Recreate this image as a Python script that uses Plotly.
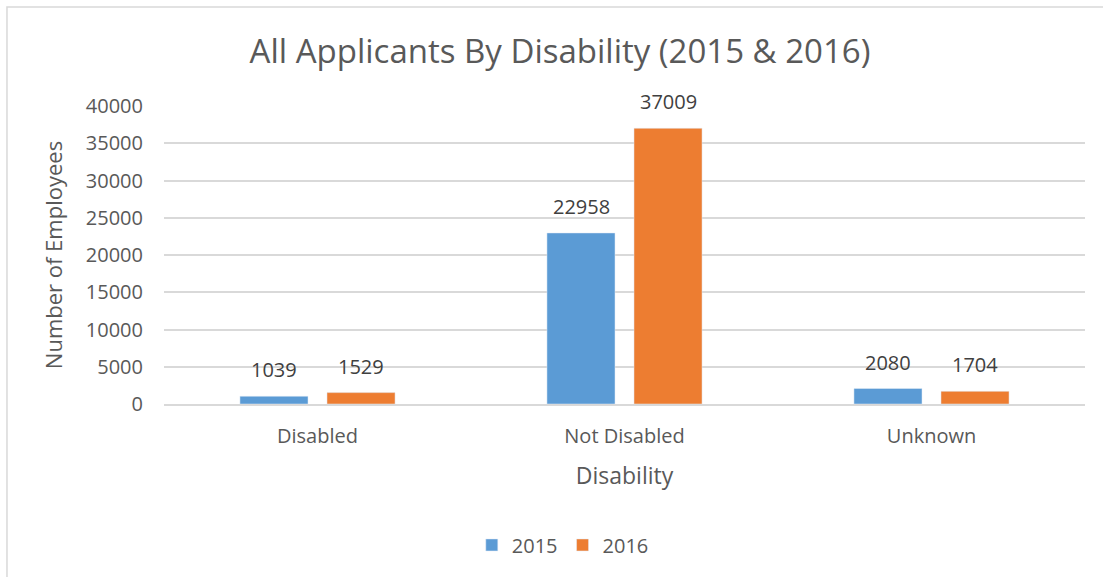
import plotly.graph_objects as go

categories = ["Disabled", "Not Disabled", "Unknown"]
values_2015 = [1039, 22958, 2080]
values_2016 = [1529, 37009, 1704]
series_names = ["2015", "2016"]
y_ticks = [0, 5000, 10000, 15000, 20000, 25000, 30000, 35000, 40000]
y_tick_labels = [str(v) for v in y_ticks]

FONT = "Open Sans, Liberation Sans, sans-serif"
TXT = "#595959"
COLORS = ["#5B9BD5", "#ED7D31"]
SLOT_PX = 43.5  # half of bar slot width in pixels for label offset

fig = go.Figure()
for name, vals, col in [(series_names[0], values_2015, COLORS[0]),
                        (series_names[1], values_2016, COLORS[1])]:
    fig.add_trace(go.Bar(x=categories, y=vals, name=name, marker_color=col))

annotations = []
for sign, vals in [(-1, values_2015), (1, values_2016)]:
    for c, v in zip(categories, vals):
        annotations.append(dict(
            x=c, y=v, xref="x", yref="y", text=str(v), showarrow=False,
            xanchor="center", yanchor="bottom", xshift=sign * SLOT_PX, yshift=11,
            font=dict(size=20, color="#404040", family=FONT)))

fig.update_layout(
    width=1103, height=577,
    paper_bgcolor="white", plot_bgcolor="white",
    margin=dict(l=164, r=18, t=106, b=173),
    barmode="group", bargap=0.433, bargroupgap=0.218,
    font=dict(family=FONT, color=TXT, size=20),
    title=dict(text="All Applicants By Disability (2015 & 2016)",
               x=0.43, xanchor="center", y=0.91, yanchor="middle",
               xref="paper",
               font=dict(size=33, color=TXT, family=FONT)),
    xaxis=dict(
        title=dict(text="Disability", font=dict(size=23, color=TXT), standoff=20),
        tickfont=dict(size=20, color=TXT),
        showline=True, linecolor="#D9D9D9", linewidth=1.5,
        ticks="", ticklabelstandoff=13,
    ),
    yaxis=dict(
        title=dict(text="Number of Employees", font=dict(size=22, color=TXT), standoff=17),
        range=[0, 40000], tickvals=y_ticks, ticktext=y_tick_labels,
        tickfont=dict(size=20, color=TXT),
        showgrid=True, gridcolor="#D9D9D9", gridwidth=1.5,
        zeroline=False, ticks="", ticklabelstandoff=20,
    ),
    legend=dict(orientation="h", x=0.433, xanchor="center", y=-0.473, yanchor="middle",
                font=dict(size=20, color=TXT), itemwidth=30, traceorder="normal"),
    annotations=annotations,
    shapes=[dict(type="rect", xref="paper", yref="paper",
                 x0=-0.1705, x1=1.2, y0=-0.8, y1=1.332,
                 line=dict(color="#D9D9D9", width=1.5), layer="below")],
)

fig.write_html("out.html")
